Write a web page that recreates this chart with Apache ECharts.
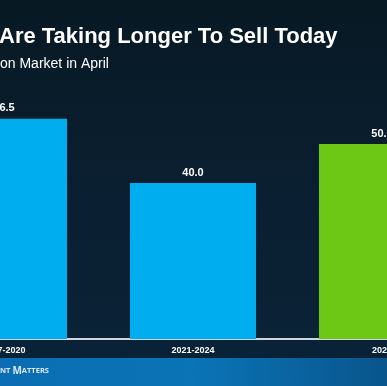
<!DOCTYPE html>
<html>
<head>
<meta charset="utf-8">
<script src="https://cdn.jsdelivr.net/npm/echarts@6/dist/echarts.min.js"></script>
<style>
html,body{margin:0;padding:0;background:#0a1a2a;}
#chart{width:387px;height:386px;}
</style>
</head>
<body>
<div id="chart"></div>
<script>
var categories = ["2017-2020", "2021-2024", "2025"];
var values = [56.5, 40.0, 50.0];
var barColors = ["#00aeef", "#00aeef", "#6cc814"];
var titleText = "Are Taking Longer To Sell Today";
var subtitleText = "on Market in April";

var chart = echarts.init(document.getElementById('chart'), null, {renderer: 'canvas'});
var option = {
  animation: false,
  backgroundColor: {
    type: 'linear', x: 0, y: 0, x2: 0, y2: 1,
    colorStops: [
      {offset: 0, color: '#071923'},
      {offset: 0.5, color: '#0a1f31'},
      {offset: 1, color: '#0b2438'}
    ]
  },
  grid: {left: -90.5, top: 105, width: 567, bottom: 47, containLabel: false, outerBoundsMode: 'none'},
  xAxis: {
    type: 'category',
    data: categories,
    axisLine: {show: true, lineStyle: {color: '#d0d6dc', width: 2}},
    axisTick: {show: false},
    axisLabel: {color: '#ffffff', fontFamily: 'Liberation Sans', fontWeight: 'bold', fontSize: 9, margin: 7}
  },
  yAxis: {type: 'value', min: 0, max: 60, show: false, splitLine: {show: false}},
  series: [{
    type: 'bar',
    barCategoryGap: '33.3%',
    data: values.map(function (v, i) { return {value: v, itemStyle: {color: barColors[i]}}; }),
    label: {
      show: true, position: 'top', distance: 5,
      formatter: function (p) { return p.value.toFixed(1); },
      color: '#ffffff', fontFamily: 'Liberation Sans', fontWeight: 'bold', fontSize: 11
    }
  }],
  graphic: [
    {type: 'text', x: -1, y: 26, style: {text: titleText, fill: '#ffffff', font: 'bold 22px "Liberation Sans", Arial, sans-serif'}},
    {type: 'text', x: 0, y: 57, style: {text: subtitleText, fill: '#ffffff', font: '14px "Liberation Sans", Arial, sans-serif'}},
    {type: 'rect', shape: {x: 0, y: 340, width: 387, height: 18}, style: {fill: '#0a2237'}, z: -1},
    {type: 'rect', shape: {x: 0, y: 358, width: 387, height: 28},
      style: {fill: {type: 'linear', x: 0, y: 0, x2: 1, y2: 0.3, colorStops: [{offset: 0, color: '#0b6db3'}, {offset: 0.5, color: '#0a74b6'}, {offset: 1, color: '#09558c'}]}}, z: 10},
    {type: 'text', x: 0, y: 366, z: 11, style: {
      rich: {
        s: {fontFamily: 'Open Sans', fontWeight: 'bold', fontSize: 7.5, fill: '#dce9f5'},
        b: {fontFamily: 'Open Sans', fontWeight: 'bold', fontSize: 10, fill: '#dce9f5'}
      },
      text: '{s|NT }{b|M}{s|ATTERS}'
    }}
  ]
};
chart.setOption(option);
</script>
</body>
</html>
